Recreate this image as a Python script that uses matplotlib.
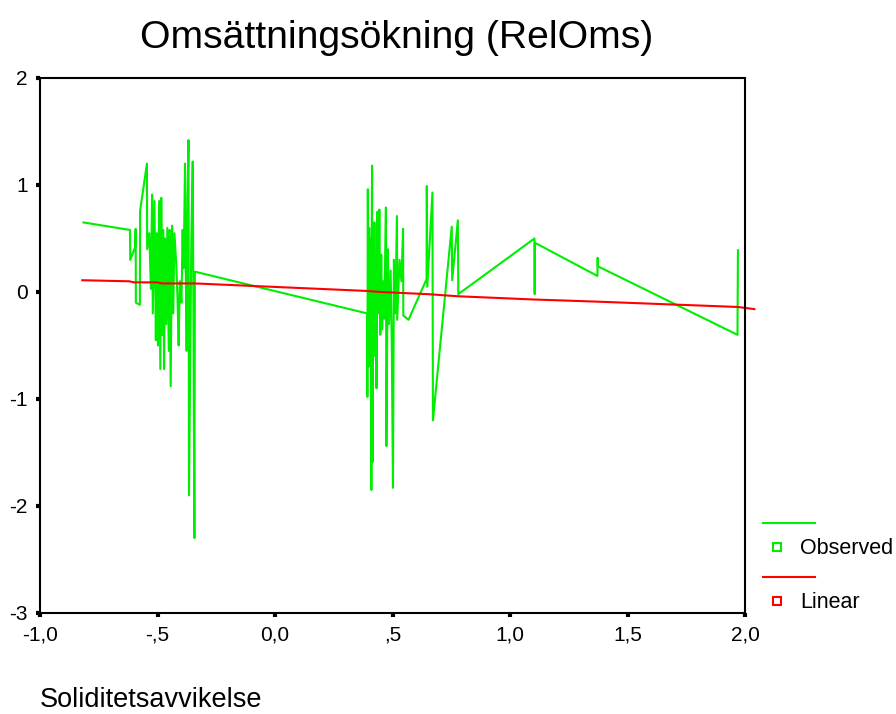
import matplotlib
matplotlib.use('Agg')
import matplotlib.pyplot as plt
from matplotlib.lines import Line2D

plt.rcParams['font.family'] = ['Liberation Sans', 'DejaVu Sans']
plt.rcParams['axes.unicode_minus'] = False

# Observed values (sorted by Soliditetsavvikelse)
obs_x = [-0.815, -0.617, -0.616, -0.595, -0.593, -0.592, -0.575, -0.574, -0.545, -0.544,
         -0.535, -0.528, -0.523, -0.520, -0.513, -0.507, -0.503, -0.498, -0.493, -0.488,
         -0.484, -0.480, -0.476, -0.472, -0.468, -0.463, -0.458, -0.452, -0.448, -0.444,
         -0.438, -0.433, -0.428, -0.420, -0.415, -0.410, -0.405, -0.398, -0.393, -0.390,
         -0.386, -0.383, -0.380, -0.376, -0.372, -0.368, -0.366, -0.356, -0.350, -0.343,
         -0.341,
         0.392, 0.393, 0.395, 0.398, 0.401, 0.404, 0.407, 0.410, 0.412, 0.413,
         0.415, 0.417, 0.420, 0.423, 0.426, 0.429, 0.432, 0.436, 0.440, 0.444,
         0.448, 0.452, 0.456, 0.460, 0.465, 0.472, 0.474, 0.480, 0.485, 0.492,
         0.497, 0.502, 0.506, 0.512, 0.519, 0.520, 0.530, 0.538, 0.545, 0.546,
         0.568, 0.645, 0.646, 0.648, 0.670, 0.672, 0.752, 0.754, 0.778, 0.780,
         1.104, 1.105, 1.106, 1.372, 1.373, 1.374, 1.968, 1.970]
obs_y = [0.65, 0.58, 0.30, 0.42, 0.59, -0.10, -0.12, 0.76, 1.20, 0.40,
         0.55, 0.03, 0.91, -0.20, 0.85, -0.45, 0.55, -0.50, 0.85, -0.72,
         0.88, -0.40, 0.58, -0.72, 0.50, -0.30, 0.60, -0.55, 0.58, -0.88,
         0.62, -0.20, 0.55, 0.25, -0.05, -0.50, 0.10, -0.10, 0.58, 0.22,
         0.65, 1.20, 0.30, -0.55, 0.90, 1.42, -1.90, 0.50, 1.22, -2.30,
         0.19,
         -0.20, -0.98, 0.96, -0.70, 0.60, -0.40, 0.50, -1.85, 0.30, 1.18,
         -1.59, 0.60, -0.60, 0.65, -0.30, 0.30, -0.90, 0.75, -0.20, 0.77,
         -0.40, 0.35, -0.35, 0.10, -0.25, 0.79, -1.44, 0.40, -0.30, 0.20,
         -0.50, -1.83, 0.30, -0.20, 0.71, -0.26, 0.30, 0.10, 0.59, -0.22,
         -0.26, 0.12, 0.99, 0.05, 0.93, -1.20, 0.61, 0.11, 0.67, -0.02,
         0.50, -0.02, 0.46, 0.15, 0.32, 0.24, -0.40, 0.39]

# Linear fit
lin_x = [-0.82, -0.62, -0.60, -0.50, -0.48, -0.34, 0.39, 0.45, 0.55, 0.65,
         0.78, 1.10, 1.37, 1.97, 2.04]
lin_y = [0.11, 0.10, 0.09, 0.09, 0.08, 0.08, 0.01, 0.00, -0.01, -0.02,
         -0.04, -0.07, -0.09, -0.14, -0.16]

x_ticks = [-1.0, -0.5, 0.0, 0.5, 1.0, 1.5, 2.0]
x_labels = ['-1,0', '-,5', '0,0', ',5', '1,0', '1,5', '2,0']
y_ticks = [-3, -2, -1, 0, 1, 2]

W, H = 896, 714
fig = plt.figure(figsize=(W / 100, H / 100), dpi=100)
ax = fig.add_axes([40 / W, 1 - 613 / H, 705 / W, 535 / H])

ax.plot(obs_x, obs_y, color='#00ee00', lw=1.5)
ax.plot(lin_x, lin_y, color='#ff0000', lw=1.5, clip_on=False)

ax.set_xlim(-1.0, 2.0)
ax.set_ylim(-3, 2)
ax.set_xticks(x_ticks)
ax.set_xticklabels(x_labels)
ax.set_yticks(y_ticks)
ax.tick_params(direction='out', length=3, width=3, labelsize=15, pad=6)
for s in ax.spines.values():
    s.set_linewidth(1.5)

fig.text(397 / W, 1 - 38 / H, 'Omsättningsökning (RelOms)', fontsize=28.2,
         ha='center', va='center')
fig.text(40 / W, 1 - 700 / H, 'Soliditetsavvikelse', fontsize=19.5,
         ha='left', va='center')

# legend drawn by hand, in pixel coordinates
lg = fig.add_axes([0, 0, 1, 1], zorder=-1)
lg.set_xlim(0, W)
lg.set_ylim(H, 0)
lg.axis('off')
for col, name, yl, ym in [('#00ee00', 'Observed', 523, 547),
                          ('#ff0000', 'Linear', 577, 601)]:
    lg.add_line(Line2D([763, 815], [yl, yl], color=col, lw=1.5))
    lg.plot([777], [ym], marker='s', ms=6, mfc='white', mec=col, mew=1.5)
    lg.text(800, ym + 2, name, fontsize=15.5, ha='left', va='center')

fig.savefig('out.png', dpi=100)
